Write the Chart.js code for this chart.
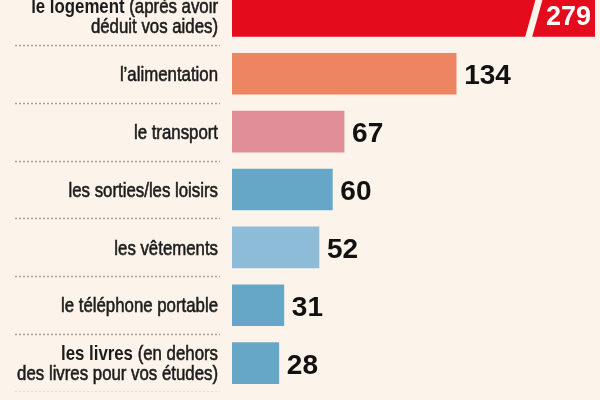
<!DOCTYPE html>
<html>
<head>
<meta charset="utf-8">
<script src="https://cdn.jsdelivr.net/npm/chart.js@4"></script>
<style>
  html, body { margin: 0; padding: 0; background: #fcf4ea; overflow: hidden; width: 600px; height: 400px; }
  #wrap { position: absolute; left: 0; top: -13px; width: 600px; height: 405px; }
</style>
</head>
<body>
<div id="wrap"><canvas id="chart"></canvas></div>
<script>
// Monthly spending per item (euros)
const categories = [
    'le logement (après avoir déduit vos aides)',
    'l’alimentation',
    'le transport',
    'les sorties/les loisirs',
    'les vêtements',
    'le téléphone portable',
    'les livres (en dehors des livres pour vos études)'
];
// how each category label is broken into lines
const labelLines = [
    ['le logement (après avoir', 'déduit vos aides)'],
    ['l’alimentation'],
    ['le transport'],
    ['les sorties/les loisirs'],
    ['les vêtements'],
    ['le téléphone portable'],
    ['les livres (en dehors', 'des livres pour vos études)']
];
// part of the first line printed in bold
const boldParts = ['le logement', '', '', '', '', '', 'les livres'];
const amounts = [279, 134, 67, 60, 52, 31, 28];
const barColors = ['#e30b1c', '#ee8562', '#e08e98', '#66a7c8', '#8cbcd7', '#66a7c8', '#66a7c8'];
const axisMax = 217; // the first bar runs past this and is drawn broken

const bgColor = '#fcf4ea';
const labelFont = '20.5px "Liberation Sans", Arial, sans-serif';
const labelFontBold = 'bold ' + labelFont;
const narrow = 0.82; // no narrow face installed, so squeeze the text

// draws the left labels, the dotted separators and the value labels
const rowDecor = {
    id: 'rowDecor',
    afterDatasetsDraw(chart) {
        const ctx = chart.ctx;
        const area = chart.chartArea;
        const meta = chart.getDatasetMeta(0);
        const rowH = (area.bottom - area.top) / categories.length;

        ctx.save();
        meta.data.forEach((bar, i) => {
            const cy = bar.y;

            // dotted separator under the row
            const sy = Math.round(cy + rowH / 2) + 0.5;
            ctx.strokeStyle = '#a8a29a';
            ctx.lineWidth = 1.5;
            ctx.setLineDash([2, 2]);
            ctx.beginPath();
            ctx.moveTo(15, sy);
            ctx.lineTo(220, sy);
            ctx.stroke();
            ctx.setLineDash([]);

            // category label, right aligned
            const lines = labelLines[i];
            ctx.fillStyle = '#1c1c1c';
            ctx.strokeStyle = '#1c1c1c';
            ctx.lineWidth = 0.6;
            ctx.textBaseline = 'middle';
            ctx.textAlign = 'left';
            lines.forEach((line, j) => {
                const ly = cy + 1.5 + (j - (lines.length - 1) / 2) * 20;
                const bold = (j === 0 && boldParts[i] && line.startsWith(boldParts[i])) ? boldParts[i] : '';
                const rest = line.slice(bold.length);
                ctx.font = labelFont;
                const restW = ctx.measureText(rest).width;
                ctx.font = labelFontBold;
                const boldW = bold ? ctx.measureText(bold).width : 0;
                ctx.save();
                ctx.translate(218 - (restW + boldW) * narrow, ly);
                ctx.scale(narrow, 1);
                if (bold) {
                    ctx.font = labelFontBold;
                    ctx.fillText(bold, 0, 0);
                }
                ctx.font = labelFont;
                ctx.fillText(rest, boldW, 0);
                ctx.strokeText(rest, boldW, 0); // a touch heavier, like the original face
                ctx.restore();
            });

            // value
            const v = amounts[i];
            if (v > axisMax) {
                // break in the bar
                const top = bar.y - bar.height / 2 - 1;
                const bottom = bar.y + bar.height / 2 + 1;
                const slope = 10 / 36;
                const xb = area.right - 70;
                ctx.fillStyle = bgColor;
                ctx.beginPath();
                ctx.moveTo(xb, bottom);
                ctx.lineTo(xb + 7, bottom);
                ctx.lineTo(xb + 7 + (bottom - top) * slope, top);
                ctx.lineTo(xb + (bottom - top) * slope, top);
                ctx.closePath();
                ctx.fill();

                ctx.fillStyle = '#ffffff';
                ctx.font = 'bold 27px "Liberation Sans", Arial, sans-serif';
                ctx.textAlign = 'right';
                ctx.textBaseline = 'alphabetic';
                ctx.fillText(String(v), area.right - 4, cy + 9.5);
            } else {
                ctx.fillStyle = '#111111';
                ctx.font = 'bold 28px "Liberation Sans", Arial, sans-serif';
                ctx.textAlign = 'left';
                ctx.textBaseline = 'alphabetic';
                ctx.fillText(String(v), bar.x + 8, cy + 10.5);
            }
        });
        ctx.restore();
    }
};

const ctx = document.getElementById('chart').getContext('2d');
window.chart = new Chart(ctx, {
    type: 'bar',
    data: {
        labels: categories,
        datasets: [{
            data: amounts,
            backgroundColor: barColors,
            borderWidth: 0,
            barThickness: 41,
            clip: 0
        }]
    },
    options: {
        indexAxis: 'y',
        responsive: true,
        maintainAspectRatio: false,
        animation: false,
        layout: { padding: { left: 232, right: 5, top: 0, bottom: 0 } },
        scales: {
            x: { display: false, min: 0, max: axisMax },
            y: { display: false }
        },
        plugins: {
            legend: { display: false },
            tooltip: { enabled: false }
        }
    },
    plugins: [rowDecor]
});
</script>
</body>
</html>
